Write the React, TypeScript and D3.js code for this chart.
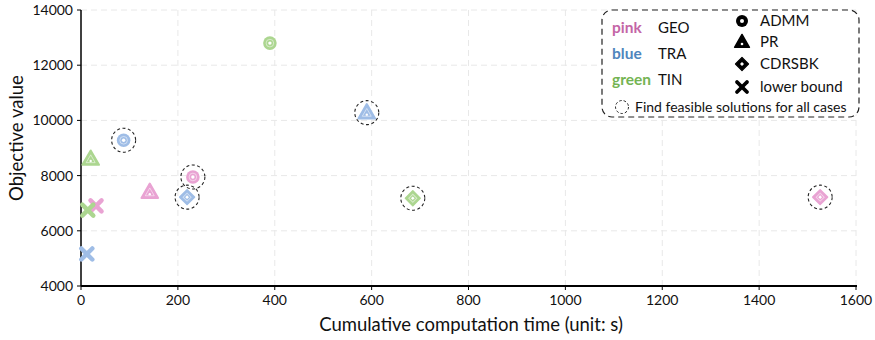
import React from "react";
import * as d3 from "d3";

// time (s) and objective values per method, one entry per dataset
const datasets = ["GEO", "TRA", "TIN"];
const colorNames = ["pink", "blue", "green"];
const markColors = ["#e9a3d3", "#9fbde6", "#acd690"];
const textColors = ["#c465a6", "#4f86bd", "#74b453"];

const admmTime = [231, 88, 390];
const admmObj = [7950, 9280, 12800];
const prTime = [142, 590, 20];
const prObj = [7400, 10280, 8600];
const cdrTime = [1526, 219, 685];
const cdrObj = [7220, 7220, 7180];
const lbTime = [31, 12, 14];
const lbObj = [6900, 5160, 6750];

// which markers got a dashed ring (feasible for all cases)
const admmFeasible = [true, true, false];
const prFeasible = [false, true, false];
const cdrFeasible = [true, true, true];

const xTicks = [0, 200, 400, 600, 800, 1000, 1200, 1400, 1600];
const yTicks = [4000, 6000, 8000, 10000, 12000, 14000];

const W = 875;
const H = 340;
const font = "Lato, 'Open Sans', sans-serif";

export default function App() {
  const x = d3.scaleLinear().domain([0, 1600]).range([81, 856]);
  const y = d3.scaleLinear().domain([4000, 14000]).range([286, 10]);

  const tri = d3.symbol().type(d3.symbolTriangle).size(120)();
  const triIn = d3.symbol().type(d3.symbolTriangle).size(35)();
  const dia = d3.symbol().type(d3.symbolSquare).size(110)();
  const diaIn = d3.symbol().type(d3.symbolSquare).size(32)();

  const ring = (cx: number, cy: number, key: string) => (
    <circle key={key} cx={cx} cy={cy} r={12} fill="none" stroke="#222" strokeWidth={1.1} strokeDasharray="3,2.5" />
  );

  const marks: any[] = [];
  datasets.forEach((d, i) => {
    const c = markColors[i];
    // lower bound crosses
    const lx = x(lbTime[i]), ly = y(lbObj[i]);
    marks.push(
      <g key={"lb" + d} stroke={c} strokeWidth={4.5} strokeLinecap="round">
        <line x1={lx - 5.5} y1={ly - 5.5} x2={lx + 5.5} y2={ly + 5.5} />
        <line x1={lx - 5.5} y1={ly + 5.5} x2={lx + 5.5} y2={ly - 5.5} />
      </g>
    );
    // ADMM
    const ax = x(admmTime[i]), ay = y(admmObj[i]);
    marks.push(
      <g key={"admm" + d}>
        <circle cx={ax} cy={ay} r={6.8} fill={c} />
        <circle cx={ax} cy={ay} r={3.8} fill="none" stroke="#fff" strokeOpacity={0.5} strokeWidth={1} />
        <circle cx={ax} cy={ay} r={1.7} fill="#fff" />
      </g>
    );
    if (admmFeasible[i]) marks.push(ring(ax, ay, "ra" + d));
    // PR
    const px = x(prTime[i]), py = y(prObj[i]);
    marks.push(
      <g key={"pr" + d} transform={`translate(${px},${py + 1})`}>
        <path d={tri} fill={c} stroke={c} strokeWidth={2} strokeLinejoin="round" />
        <path d={triIn} fill="none" stroke="#fff" strokeOpacity={0.5} strokeWidth={1} />
        <circle cx={0} cy={1} r={1.2} fill="#fff" />
      </g>
    );
    if (prFeasible[i]) marks.push(ring(px, py, "rp" + d));
    // CDRSBK
    const dx = x(cdrTime[i]), dy = y(cdrObj[i]);
    marks.push(
      <g key={"cdr" + d} transform={`translate(${dx},${dy}) rotate(45)`}>
        <path d={dia} fill={c} stroke={c} strokeWidth={1.5} strokeLinejoin="round" />
        <path d={diaIn} fill="none" stroke="#fff" strokeOpacity={0.5} strokeWidth={1} />
        <rect x={-1.3} y={-1.3} width={2.6} height={2.6} fill="#fff" />
      </g>
    );
    if (cdrFeasible[i]) marks.push(ring(dx, dy, "rd" + d));
  });

  const legendShapes = [
    { label: "ADMM", kind: "circle", cy: 21 },
    { label: "PR", kind: "tri", cy: 42 },
    { label: "CDRSBK", kind: "dia", cy: 64 },
    { label: "lower bound", kind: "x", cy: 87 },
  ];

  return (
    <svg width={W} height={H} style={{ position: "absolute", left: 0, top: 0 }} fontFamily={font}>
      <rect width={W} height={H} fill="#fff" />
      {/* grid */}
      <g stroke="#e8e8e8" strokeWidth={1} strokeDasharray="6,4">
        {yTicks.slice(1).map((t) => (
          <line key={"gy" + t} x1={81} x2={856} y1={y(t)} y2={y(t)} />
        ))}
        {xTicks.slice(1).map((t) => (
          <line key={"gx" + t} x1={x(t)} x2={x(t)} y1={10} y2={286} />
        ))}
      </g>
      {/* axes */}
      <line x1={81} x2={81} y1={10} y2={286} stroke="#000" strokeWidth={1.5} />
      {yTicks.map((t) => (
        <g key={"yt" + t}>
          <line x1={77} x2={81} y1={y(t)} y2={y(t)} stroke="#000" strokeWidth={1} />
          <text x={73} y={y(t) + 5} textAnchor="end" fontSize={14} fill="#111">
            {t}
          </text>
        </g>
      ))}
      <line x1={81} x2={857} y1={286} y2={286} stroke="#000" strokeWidth={2.2} />
      {xTicks.map((t) => (
        <g key={"xt" + t}>
          <line x1={x(t)} x2={x(t)} y1={286} y2={290} stroke="#000" strokeWidth={1} />
          <text x={x(t)} y={305} textAnchor="middle" fontSize={14} fill="#111">
            {t}
          </text>
        </g>
      ))}
      <text x={471} y={331} textAnchor="middle" fontSize={18.5} fill="#111">
        Cumulative computation time (unit: s)
      </text>
      <text transform="translate(23,138) rotate(-90)" textAnchor="middle" fontSize={18.5} fill="#111">
        Objective value
      </text>

      {marks}

      {/* legend */}
      <rect x={602} y={10} width={257} height={107} rx={10} fill="#fff" stroke="#222" strokeWidth={1.2} strokeDasharray="6,4" />
      {datasets.map((d, i) => (
        <g key={"lg" + d}>
          <text x={612} y={33 + i * 26} fontSize={15.5} fontWeight="bold" fill={textColors[i]}>
            {colorNames[i]}
          </text>
          <text x={658} y={33 + i * 26} fontSize={15} fill="#111">
            {d}
          </text>
        </g>
      ))}
      {legendShapes.map((s) => (
        <g key={"ls" + s.label}>
          {s.kind === "circle" && (
            <g>
              <circle cx={742} cy={s.cy} r={6} fill="#000" />
              <circle cx={742} cy={s.cy} r={2} fill="#fff" />
            </g>
          )}
          {s.kind === "tri" && (
            <g transform={`translate(742,${s.cy + 1})`}>
              <path d={d3.symbol().type(d3.symbolTriangle).size(95)()!} fill="#000" stroke="#000" strokeWidth={1.5} strokeLinejoin="round" />
              <circle cx={0} cy={1} r={1.3} fill="#fff" />
            </g>
          )}
          {s.kind === "dia" && (
            <g transform={`translate(742,${s.cy}) rotate(45)`}>
              <path d={d3.symbol().type(d3.symbolSquare).size(85)()!} fill="#000" stroke="#000" strokeWidth={1.2} strokeLinejoin="round" />
              <rect x={-1.4} y={-1.4} width={2.8} height={2.8} fill="#fff" />
            </g>
          )}
          {s.kind === "x" && (
            <g stroke="#000" strokeWidth={3.8} strokeLinecap="round">
              <line x1={737} y1={s.cy - 5} x2={747} y2={s.cy + 5} />
              <line x1={737} y1={s.cy + 5} x2={747} y2={s.cy - 5} />
            </g>
          )}
          <text x={760} y={s.cy + 5} fontSize={15} fill="#111">
            {s.label}
          </text>
        </g>
      ))}
      <circle cx={622} cy={107} r={6.5} fill="none" stroke="#222" strokeWidth={1} strokeDasharray="2.5,2" />
      <text x={635} y={112} fontSize={14} fill="#111">
        Find feasible solutions for all cases
      </text>
    </svg>
  );
}
